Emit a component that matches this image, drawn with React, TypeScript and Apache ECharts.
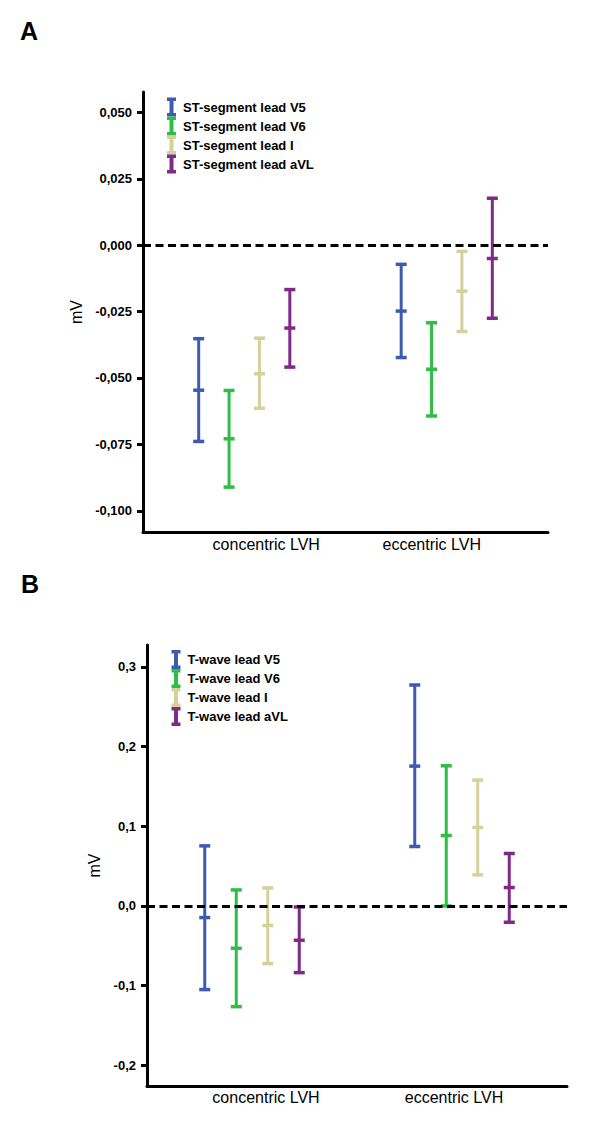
import React, { useEffect, useRef } from "react";
import * as echarts from "echarts";

const FONT = "Arial, 'Liberation Sans', Helvetica, sans-serif";

const categories = ["concentric LVH", "eccentric LVH"];
const leadColors = ["#3d5bb0", "#2ebd45", "#d6d09c", "#7e2a86"];

// Panel A: ST-segment
const stLeads = ["ST-segment lead V5", "ST-segment lead V6", "ST-segment lead I", "ST-segment lead aVL"];
const stMean = [
  [-0.0546, -0.0248],
  [-0.0729, -0.0467],
  [-0.0484, -0.0173],
  [-0.0312, -0.005],
];
const stLow = [
  [-0.0739, -0.0423],
  [-0.0911, -0.0643],
  [-0.0614, -0.0325],
  [-0.0459, -0.0275],
];
const stHigh = [
  [-0.0352, -0.0072],
  [-0.0547, -0.0292],
  [-0.035, -0.0023],
  [-0.0167, 0.0177],
];
const stTicks = [-0.1, -0.075, -0.05, -0.025, 0, 0.025, 0.05];

// Panel B: T-wave
const tLeads = ["T-wave lead V5", "T-wave lead V6", "T-wave lead I", "T-wave lead aVL"];
const tMean = [
  [-0.0146, 0.1755],
  [-0.0531, 0.0884],
  [-0.0246, 0.0985],
  [-0.0431, 0.0231],
];
const tLow = [
  [-0.105, 0.0746],
  [-0.1264, 0.0],
  [-0.0724, 0.039],
  [-0.0837, -0.0205],
];
const tHigh = [
  [0.0754, 0.2773],
  [0.0201, 0.1759],
  [0.0226, 0.1579],
  [-0.0013, 0.0658],
];
const tTicks = [-0.2, -0.1, 0, 0.1, 0.2, 0.3];

const legendIcon = "path://M0,0H9V3.5H6.5V15.5H9V19H0V15.5H2.5V3.5H0Z";

function makeRender(k: number, color: string) {
  return (params: any, api: any) => {
    const cat = api.value(0);
    const band = api.size([1, 0])[0];
    const off = (k - 1.5) * 0.15 * band;
    const lo = api.coord([cat, api.value(1)]);
    const me = api.coord([cat, api.value(2)]);
    const hi = api.coord([cat, api.value(3)]);
    const x = lo[0] + off;
    const hw = 5.5;
    const s = { stroke: color, lineWidth: 3 };
    const c = { stroke: color, lineWidth: 3.5 };
    return {
      type: "group",
      children: [
        { type: "line", shape: { x1: x, y1: hi[1], x2: x, y2: lo[1] }, style: s },
        { type: "line", shape: { x1: x - hw, y1: hi[1], x2: x + hw, y2: hi[1] }, style: c },
        { type: "line", shape: { x1: x - hw, y1: lo[1], x2: x + hw, y2: lo[1] }, style: c },
        { type: "line", shape: { x1: x - hw, y1: me[1], x2: x + hw, y2: me[1] }, style: c },
      ],
    };
  };
}

function buildSeries(names: string[], low: number[][], mean: number[][], high: number[][], axisIdx: number) {
  const out: any[] = names.map((name, k) => ({
    type: "custom",
    name,
    xAxisIndex: axisIdx,
    yAxisIndex: axisIdx,
    itemStyle: { color: leadColors[k] },
    renderItem: makeRender(k, leadColors[k]),
    encode: { x: 0, y: [1, 2, 3] },
    data: categories.map((_, i) => [i, low[k][i], mean[k][i], high[k][i]]),
    z: 2,
  }));
  out.push({
    type: "line",
    name: "zero" + axisIdx,
    xAxisIndex: axisIdx,
    yAxisIndex: axisIdx,
    data: [],
    z: 5,
    markLine: {
      silent: true,
      symbol: "none",
      label: { show: false },
      lineStyle: { color: "#000", type: [8, 4.5], width: 3 },
      data: [{ yAxis: 0 }],
    },
  });
  return out;
}

function xAxisCfg(gridIndex: number, padA: number, padB: number, margin: number) {
  const txt = { fontSize: 16, color: "#000", fontFamily: FONT };
  return {
    type: "category",
    gridIndex,
    data: categories,
    boundaryGap: true,
    axisLine: { show: true, onZero: false, lineStyle: { color: "#000", width: 3 } },
    axisTick: { show: false },
    axisLabel: {
      margin,
      formatter: (v: string, i: number) => (i === 0 ? `{a|${v}}` : `{b|${v}}`),
      rich: {
        a: { ...txt, padding: [0, 0, 0, padA] },
        b: { ...txt, padding: [0, padB, 0, 0] },
      },
    },
    splitLine: { show: false },
  };
}

function yAxisCfg(gridIndex: number, min: number, max: number, ticks: number[], digits: number, nameGap: number) {
  return {
    type: "value",
    gridIndex,
    min,
    max,
    name: "mV",
    nameLocation: "middle",
    nameGap,
    nameTextStyle: { fontSize: 16, color: "#000", fontFamily: FONT },
    axisLine: { show: true, lineStyle: { color: "#000", width: 3 } },
    axisTick: { show: true, length: 6, lineStyle: { color: "#000", width: 3 }, customValues: ticks },
    axisLabel: {
      customValues: ticks,
      margin: 11,
      fontSize: 13,
      fontWeight: "bold",
      color: "#000",
      fontFamily: FONT,
      formatter: (v: number) => v.toFixed(digits).replace(".", ","),
    },
    splitLine: { show: false },
  };
}

function legendCfg(names: string[], left: number, top: number) {
  return {
    orient: "vertical",
    left,
    top,
    padding: 0,
    data: names,
    icon: legendIcon,
    itemWidth: 9,
    itemHeight: 19,
    itemGap: 0,
    selectedMode: false,
    formatter: (n: string) => `{t|${n}}`,
    textStyle: {
      fontSize: 13,
      fontWeight: "bold",
      color: "#000",
      fontFamily: FONT,
      rich: {
        t: { fontSize: 13, fontWeight: "bold", color: "#000", fontFamily: FONT, padding: [0, 0, 0, 2] },
      },
    },
  };
}

export default function App() {
  const ref = useRef<HTMLDivElement>(null);
  useEffect(() => {
    if (!ref.current) return;
    const chart = echarts.init(ref.current, undefined, { renderer: "svg" });
    chart.setOption({
      animation: false,
      backgroundColor: "#fff",
      grid: [
        { left: 143, top: 92, width: 405, height: 440, containLabel: false },
        { left: 147, top: 645, width: 420, height: 441, containLabel: false },
      ],
      xAxis: [xAxisCfg(0, 44, 30, 4), xAxisCfg(1, 28, 16, 3)],
      yAxis: [
        yAxisCfg(0, -0.108, 0.0577, stTicks, 3, 50),
        yAxisCfg(1, -0.226, 0.3275, tTicks, 1, 37),
      ],
      legend: [legendCfg(stLeads, 167, 97.5), legendCfg(tLeads, 171.5, 650)],
      graphic: [
        { type: "text", left: 20, top: 18, style: { text: "A", font: `bold 25px ${FONT}`, fill: "#000" } },
        { type: "text", left: 21, top: 571, style: { text: "B", font: `bold 25px ${FONT}`, fill: "#000" } },
      ],
      series: [
        ...buildSeries(stLeads, stLow, stMean, stHigh, 0),
        ...buildSeries(tLeads, tLow, tMean, tHigh, 1),
      ],
    });
    return () => chart.dispose();
  }, []);
  return <div ref={ref} style={{ position: "absolute", left: 0, top: 0, width: 600, height: 1122 }} />;
}
